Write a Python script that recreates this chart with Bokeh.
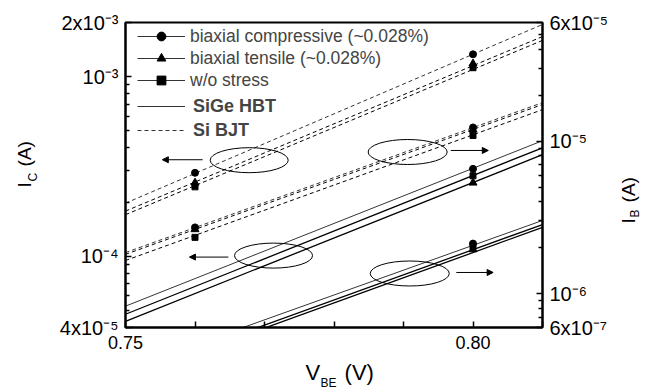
from math import pi
from bokeh.plotting import figure
from bokeh.models import (Range1d, LogScale, LogAxis, FixedTicker, Legend, LegendItem,
                          Label, Arrow, NormalHead)
from bokeh.embed import file_html
from bokeh.resources import INLINE

# ---------------- data ----------------
vbe_line = [0.75, 0.81]          # fitted lines span the whole V_BE range
vbe_pts = [0.76, 0.80]           # measured points (Si BJT)
vbe_pts_sige = [0.80]            # measured points (SiGe HBT)

# Si BJT collector current I_C (left axis)
si_ic_comp_line = [1.97e-4, 1.95e-3]
si_ic_tens_line = [1.78e-4, 1.67e-3]
si_ic_none_line = [1.70e-4, 1.59e-3]
si_ic_comp_pts = [2.91e-4, 1.33e-3]
si_ic_tens_pts = [2.56e-4, 1.18e-3]
si_ic_none_pts = [2.43e-4, 1.12e-3]

# Si BJT base current I_B (right axis)
si_ib_comp_line = [1.86e-6, 1.79e-5]
si_ib_tens_line = [1.81e-6, 1.74e-5]
si_ib_none_line = [1.65e-6, 1.61e-5]
si_ib_comp_pts = [2.72e-6, 1.23e-5]
si_ib_tens_pts = [2.64e-6, 1.19e-5]
si_ib_none_pts = [2.34e-6, 1.09e-5]

# SiGe HBT collector current I_C (left axis)
sige_ic_comp_line = [5.26e-5, 4.39e-4]
sige_ic_none_line = [4.74e-5, 4.01e-4]
sige_ic_tens_line = [4.33e-5, 3.67e-4]
sige_ic_comp_pts = [3.06e-4]
sige_ic_none_pts = [2.80e-4]
sige_ic_tens_pts = [2.56e-4]

# SiGe HBT base current I_B (right axis)
sige_ib_comp_line = [3.18e-7, 3.02e-6]
sige_ib_none_line = [2.91e-7, 2.84e-6]
sige_ib_tens_line = [2.78e-7, 2.72e-6]
sige_ib_comp_pts = [2.13e-6]
sige_ib_none_pts = [2.04e-6]
sige_ib_tens_pts = [1.95e-6]

series_labels = ["biaxial compressive (~0.028%)", "biaxial tensile (~0.028%)", "w/o stress"]
device_labels = ["SiGe HBT", "Si BJT"]

vbe_ticks = [0.75, 0.76, 0.77, 0.78, 0.79, 0.80, 0.81]
vbe_tick_labels = ["0.75", "", "", "", "", "0.80", ""]
ic_ticks = [4e-5, 1e-4, 1e-3, 2e-3]
ic_tick_labels = ["4x10\u207b\u2075", "10\u207b\u2074", "10\u207b\u00b3", "2x10\u207b\u00b3"]
ic_minor = [k * 1e-5 for k in range(5, 10)] + [k * 1e-4 for k in range(2, 10)]
ib_ticks = [6e-7, 1e-6, 1e-5, 6e-5]
ib_tick_labels = ["6x10\u207b\u2077", "10\u207b\u2076", "10\u207b\u2075", "6x10\u207b\u2075"]
ib_minor = [k * 1e-7 for k in range(7, 10)] + [k * 1e-6 for k in range(2, 10)] + [k * 1e-5 for k in range(2, 6)]

FONT = "Liberation Sans"
NB = "\u00a0"

# ---------------- figure ----------------
p = figure(frame_width=417, frame_height=305,
           min_border_left=125, min_border_top=22, min_border_right=108, min_border_bottom=62,
           x_range=Range1d(0.75, 0.81), y_range=Range1d(4e-5, 2e-3), y_axis_type="log",
           output_backend="svg", toolbar_location=None)
p.extra_y_ranges = {"ib": Range1d(6e-7, 6e-5)}
p.extra_y_scales = {"ib": LogScale()}
p.xgrid.visible = False
p.ygrid.visible = False
p.outline_line_color = "black"
p.outline_line_width = 2
p.background_fill_color = "white"

raxis = LogAxis(y_range_name="ib")
p.add_layout(raxis, "right")

for ax in [p.xaxis[0], p.yaxis[0], raxis]:
    ax.axis_line_width = 2
    ax.axis_line_color = "black"
    ax.major_tick_line_color = "black"
    ax.minor_tick_line_color = "black"
    ax.major_tick_line_width = 1.5
    ax.minor_tick_line_width = 1.5
    ax.major_tick_in = 6
    ax.major_tick_out = 0
    ax.minor_tick_in = 4
    ax.minor_tick_out = 0
    ax.major_label_text_font = FONT
    ax.major_label_text_font_size = "20px"
    ax.major_label_text_color = "black"

p.xaxis.ticker = FixedTicker(ticks=vbe_ticks)
p.xaxis.major_label_overrides = dict(zip(vbe_ticks, vbe_tick_labels))
p.xaxis.major_label_standoff = 8
p.xaxis.major_label_text_font_size = "18px"
p.yaxis.ticker = FixedTicker(ticks=ic_ticks, minor_ticks=ic_minor)
p.yaxis.major_label_overrides = dict(zip(ic_ticks, ic_tick_labels))
p.yaxis.major_label_standoff = 7
raxis.ticker = FixedTicker(ticks=ib_ticks, minor_ticks=ib_minor)
raxis.major_label_overrides = dict(zip(ib_ticks, ib_tick_labels))
raxis.major_label_standoff = 7

DASH = "4 3"
THIN = 0.8
THICK = 1.3

# Si BJT (dashed)
si_ic_comp = p.line(vbe_line, si_ic_comp_line, line_dash=DASH, line_color="black", line_width=THIN)
p.line(vbe_line, si_ic_tens_line, line_dash=DASH, line_color="black", line_width=1)
p.line(vbe_line, si_ic_none_line, line_dash=DASH, line_color="black", line_width=1)
p.line(vbe_line, si_ib_comp_line, line_dash=DASH, line_color="black", line_width=THIN, y_range_name="ib")
p.line(vbe_line, si_ib_tens_line, line_dash=DASH, line_color="black", line_width=1, y_range_name="ib")
p.line(vbe_line, si_ib_none_line, line_dash=DASH, line_color="black", line_width=1, y_range_name="ib")

# SiGe HBT (solid)
sige_ic_comp = p.line(vbe_line, sige_ic_comp_line, line_color="black", line_width=THIN)
p.line(vbe_line, sige_ic_none_line, line_color="black", line_width=THICK)
p.line(vbe_line, sige_ic_tens_line, line_color="black", line_width=THICK)
p.line(vbe_line, sige_ib_comp_line, line_color="black", line_width=THIN, y_range_name="ib")
p.line(vbe_line, sige_ib_none_line, line_color="black", line_width=THICK, y_range_name="ib")
p.line(vbe_line, sige_ib_tens_line, line_color="black", line_width=THICK, y_range_name="ib")

MK = dict(circle=7, triangle=8, square=6)

def pts(xs, ys, marker, rng="default"):
    return p.scatter(xs, ys, marker=marker, size=MK[marker], fill_color="black",
                     line_color="black", y_range_name=rng)

m_comp = pts(vbe_pts, si_ic_comp_pts, "circle")
m_tens = pts(vbe_pts, si_ic_tens_pts, "triangle")
m_none = pts(vbe_pts, si_ic_none_pts, "square")
pts(vbe_pts, si_ib_comp_pts, "circle", "ib")
pts(vbe_pts, si_ib_tens_pts, "triangle", "ib")
pts(vbe_pts, si_ib_none_pts, "square", "ib")
pts(vbe_pts_sige, sige_ic_comp_pts, "circle")
pts(vbe_pts_sige, sige_ic_none_pts, "square")
pts(vbe_pts_sige, sige_ic_tens_pts, "triangle")
pts(vbe_pts_sige, sige_ib_comp_pts, "circle", "ib")
pts(vbe_pts_sige, sige_ib_none_pts, "square", "ib")
pts(vbe_pts_sige, sige_ib_tens_pts, "triangle", "ib")

leg1 = Legend(items=[LegendItem(label=series_labels[0], renderers=[sige_ic_comp, m_comp]),
                     LegendItem(label=series_labels[1], renderers=[sige_ic_comp, m_tens]),
                     LegendItem(label=series_labels[2], renderers=[sige_ic_comp, m_none])],
              location=(12, 236), glyph_width=48, glyph_height=22, label_height=22,
              spacing=0, padding=0, margin=0, label_standoff=5,
              label_text_font=FONT, label_text_font_size="17.5px",
              background_fill_alpha=0, border_line_alpha=0)
leg2 = Legend(items=[LegendItem(label=device_labels[0], renderers=[sige_ic_comp]),
                     LegendItem(label=device_labels[1], renderers=[si_ic_comp])],
              location=(12, 186), glyph_width=48, glyph_height=22, label_height=22,
              spacing=2, padding=0, margin=0, label_standoff=8,
              label_text_font=FONT, label_text_font_size="18px", label_text_font_style="bold",
              background_fill_alpha=0, border_line_alpha=0)
p.add_layout(leg1)
p.add_layout(leg2)

# ellipses marking the groups, with arrows to the relevant axis
p.ellipse(x=[0.7678, 0.7713], y=[3.42e-4, 1.006e-4], width=78, height=25,
          width_units="screen", height_units="screen", fill_alpha=0, line_color="black", line_width=1)
p.ellipse(x=[0.7906, 0.7909], y=[8.49e-6, 1.356e-6], width=79, height=25,
          width_units="screen", height_units="screen", fill_alpha=0, line_color="black", line_width=1,
          y_range_name="ib")

def arrow(x0, x1, y, rng="default"):
    p.add_layout(Arrow(end=NormalHead(size=6, fill_color="black", line_color="black", line_width=1),
                       x_start=x0, y_start=y, x_end=x1, y_end=y, line_width=1, line_color="black",
                       y_range_name=rng))

arrow(0.7611, 0.7553, 3.44e-4)
arrow(0.7648, 0.7592, 9.87e-5)
arrow(0.7968, 0.8022, 8.69e-6, "ib")
arrow(0.7976, 0.8029, 1.377e-6, "ib")

# axis titles (with subscripts) placed in the side panels, canvas coordinates
# (anchor = left end, vertical middle of the text)
def lab(text, x, y, size, side, angle=0):
    p.add_layout(Label(text=text, x=x, y=y, x_units="canvas", y_units="canvas", angle=angle,
                       text_font=FONT, text_font_size=size, text_color="black",
                       text_align="left", text_baseline="middle"), side)

lab("V" + NB * 4 + "(V)", 305, 372, "22px", "below")
lab("BE", 320, 382, "12px", "left")
lab("I" + NB * 3 + "(A)", 24, 187, "19px", "left", pi / 2)
lab("C", 32, 181, "12px", "left", pi / 2)
lab("I" + NB * 3 + "(A)", 628, 223, "19px", "right", pi / 2)
lab("B", 634, 217, "12px", "right", pi / 2)

open("out.html", "w").write(file_html(p, INLINE))
